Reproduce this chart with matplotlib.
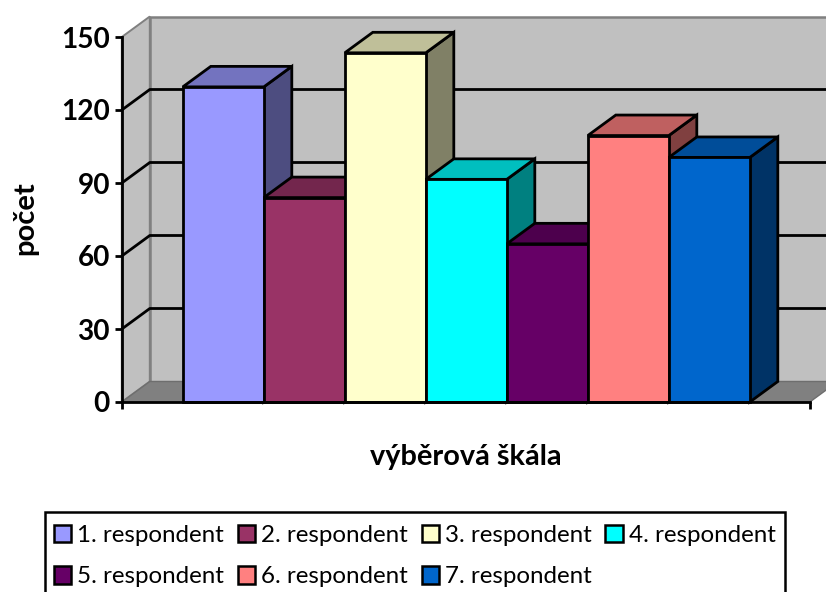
import matplotlib
matplotlib.use("Agg")
import matplotlib.pyplot as plt
from matplotlib.patches import Patch, Polygon, Rectangle
import matplotlib.colors as mcolors

plt.rcParams["font.family"] = ["Lato", "DejaVu Sans"]

labels = ["1. respondent", "2. respondent", "3. respondent", "4. respondent",
          "5. respondent", "6. respondent", "7. respondent"]
values = [129.5, 84, 143.5, 91.5, 65, 109.5, 100.5]
colors = ["#9999FF", "#993366", "#FFFFCC", "#00FFFF", "#660066", "#FF8080", "#0066CC"]
yticks = [0, 30, 60, 90, 120, 150]

W, H = 826, 592
left, right, bottom, top = 121.8, 809.8, 402, 37  # pixels

fig = plt.figure(figsize=(W / 100, H / 100), dpi=100)
ax = fig.add_axes([left / W, 1 - bottom / H, (right - left) / W, (bottom - top) / H])
ax.patch.set_visible(False)

bar_px = 81.0
ax.set_xlim(-61 / bar_px, len(values) + 60 / bar_px)
ax.set_ylim(0, 150)
x0, x1 = ax.get_xlim()

# depth of the fake 3d, in data units
dx = 28 / bar_px
dy = 20.5 / ((bottom - top) / 150)

lw = 2.0
wall = "#C0C0C0"
floor = "#808080"
edge = "#808080"

# walls and floor
ax.add_patch(Polygon([(x0, 0), (x0 + dx, dy), (x0 + dx, 150 + dy), (x0, 150)],
                     fc=wall, ec=edge, lw=1.4, clip_on=False, zorder=1))
ax.add_patch(Polygon([(x0 + dx, dy), (x1 + dx, dy), (x1 + dx, 150 + dy), (x0 + dx, 150 + dy)],
                     fc=wall, ec=edge, lw=1.8, clip_on=False, zorder=1))
ax.add_patch(Polygon([(x0, 0), (x1, 0), (x1 + dx, dy), (x0 + dx, dy)],
                     fc=floor, ec="#6E6E6E", lw=1.0, clip_on=False, zorder=1.5))

# gridlines run along the side wall and the back wall
for t in yticks[1:-1]:
    ax.plot([x0, x0 + dx, x1 + dx], [t, t + dy, t + dy], color="black", lw=lw,
            clip_on=False, zorder=2, solid_capstyle="butt")


def shade(c, f):
    r, g, b = mcolors.to_rgb(c)
    return (r * f, g * f, b * f)


for i, (v, c) in enumerate(zip(values, colors)):
    z = 3 + i
    ax.add_patch(Polygon([(i + 1, 0), (i + 1 + dx, dy), (i + 1 + dx, v + dy), (i + 1, v)],
                         fc=shade(c, 0.5), ec="black", lw=lw, joinstyle="miter",
                         clip_on=False, zorder=z))
    ax.add_patch(Polygon([(i, v), (i + 1, v), (i + 1 + dx, v + dy), (i + dx, v + dy)],
                         fc=shade(c, 0.75), ec="black", lw=lw, joinstyle="miter",
                         clip_on=False, zorder=z))
    ax.bar(i, v, width=1, align="edge", color=c, edgecolor="black", linewidth=lw,
           clip_on=False, zorder=z + 0.5)

for s in ["top", "right"]:
    ax.spines[s].set_visible(False)
for s in ["left", "bottom"]:
    ax.spines[s].set_linewidth(lw)
    ax.spines[s].set_zorder(20)

ax.set_yticks(yticks)
ax.set_xticks([x0, x1])
ax.set_xticklabels([])
ax.tick_params(axis="both", length=5, width=lw, pad=3.5)
for t in ax.get_yticklabels():
    t.set_fontsize(20.2)
    t.set_fontweight("bold")

fig.text(25.5 / W, 1 - 218 / H, "počet", rotation=90, fontsize=21, fontweight="bold",
         ha="center", va="center")
fig.text(465.5 / W, 1 - 457 / H, "výběrová škála", fontsize=20.8, fontweight="bold",
         ha="center", va="center")

# legend frame runs past the bottom of the picture, so it is drawn apart
fig.add_artist(Rectangle((45 / W, -10 / H), 740 / W, 90 / H, transform=fig.transFigure,
                         fc="white", ec="black", lw=1.8))

# columns fill top to bottom, so pair up rows by hand
order = [0, 4, 1, 5, 2, 6, 3]
handles = [Patch(fc=colors[i], ec="black", lw=1.8) for i in order]
leg = fig.legend(handles, [labels[i] for i in order], ncol=4, loc="upper left",
                 bbox_to_anchor=(54 / W, 1 - 525 / H), borderaxespad=0, fontsize=17.4,
                 frameon=False, borderpad=0,
                 handlelength=0.72, handleheight=0.72, handletextpad=0.25,
                 columnspacing=0.56, labelspacing=0.84)

fig.savefig("out.png", dpi=100)
plt.close(fig)
